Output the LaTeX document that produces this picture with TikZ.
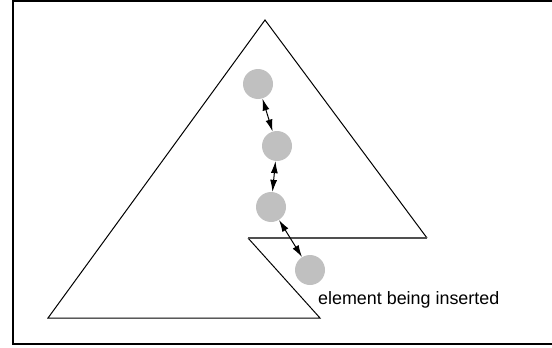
\documentclass[tikz,border=0pt]{standalone}
\usepackage{fontspec}
\setmainfont{Liberation Sans}
\usetikzlibrary{arrows.meta}
\definecolor{elemfill}{HTML}{C0C0C0}
\definecolor{cutline}{HTML}{505050}
\tikzset{
  elem/.style={circle, fill=elemfill, minimum size=30pt, inner sep=0pt},
  link/.style={{Latex[length=12pt,width=7pt]}-{Latex[length=12pt,width=7pt]}, line width=1pt},
  outline/.style={line width=1pt, line join=miter},
}

\begin{document}
\begin{tikzpicture}[x=1pt, y=-1pt]
    \useasboundingbox (0,0) rectangle (552,348);
    \clip (0,0) rectangle (552,348);
    \draw[line width=2.6pt] (558,1) -- (13,1) -- (13,344) -- (558,344);
    % tree with the cut
    \draw[outline] (248,238) -- (320,318) -- (48,318) -- (265,20) -- (427,238);
    \draw[line width=1.4pt, cutline] (427,238) -- (248,238);
    \node[elem] (e1) at (258,84) {};
    \node[elem] (e2) at (277,146) {};
    \node[elem] (e3) at (271,207) {};
    \node[elem] (e4) at (310,270) {};
    \draw[link] (e1) -- (e2);
    \draw[link] (e2) -- (e3);
    \draw[link] (e3) -- (e4);
    \node[anchor=west, inner sep=0pt, font=\fontsize{17.9}{20}\selectfont] (lbl) at (318,300) {element being inserted};
  \end{tikzpicture}
\end{document}
